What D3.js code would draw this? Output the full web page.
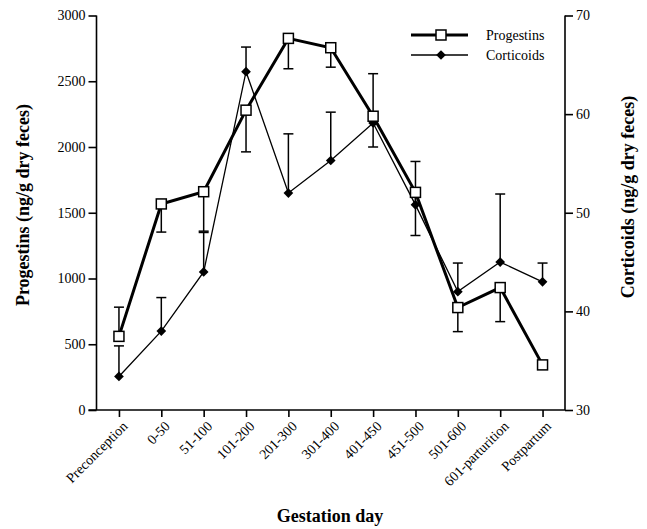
<!DOCTYPE html>
<html>
<head>
<meta charset="utf-8">
<script src="https://cdn.jsdelivr.net/npm/d3@7"></script>
<style>
  body { margin: 0; background: #fff; }
  svg text { font-family: "Liberation Serif", "Times New Roman", serif; fill: #000; }
</style>
</head>
<body>
<svg id="chart" width="647" height="529"></svg>
<script>
// data
const categories = ["Preconception", "0-50", "51-100", "101-200", "201-300", "301-400",
  "401-450", "451-500", "501-600", "601-parturition", "Postpartum"];
const progestins = [560, 1567, 1660, 2280, 2826, 2755, 2234, 1655, 779, 931, 343];
const progestinsErr = [782, 1353, 1360, 1963, 2595, 2607, 2000, 1327, 596, 672, null]; // cap end
const corticoids = [33.4, 38.0, 44.0, 64.3, 52.0, 55.3, 59.1, 50.8, 42.0, 45.0, 43.0];
const corticoidsErr = [36.5, 41.4, 48.0, 66.8, 58.0, 60.2, 64.1, 55.2, 44.9, 51.9, 44.9];
const leftTicks = [0, 500, 1000, 1500, 2000, 2500, 3000];
const rightTicks = [30, 40, 50, 60, 70];

const svg = d3.select("#chart");
const x0 = 96.5, x1 = 565, yBottom = 410, yTop = 15.5;
const serif = "Liberation Serif";

const x = d3.scalePoint().domain(categories).range([x0, x1]).padding(0.53);
const yL = d3.scaleLinear().domain([0, 3000]).range([yBottom, yTop]);
const yR = d3.scaleLinear().domain([30, 70]).range([yBottom, yTop]);

// axes
const gL = svg.append("g").attr("transform", `translate(${x0},0)`)
  .call(d3.axisLeft(yL).tickValues(leftTicks).tickSize(8).tickPadding(3).tickFormat(d3.format("d")));
const gR = svg.append("g").attr("transform", `translate(${x1},0)`)
  .call(d3.axisRight(yR).tickValues(rightTicks).tickSize(8).tickPadding(3));
const gX = svg.append("g").attr("transform", `translate(0,${yBottom})`)
  .call(d3.axisBottom(x).tickSize(7).tickSizeOuter(0));

[gL, gR, gX].forEach(g => {
  g.attr("font-family", serif);
  g.select(".domain").attr("stroke", "#000").attr("stroke-width", 1.6);
  g.selectAll(".tick line").attr("stroke", "#000").attr("stroke-width", 1.6);
  g.selectAll("text").attr("font-size", 14);
});
gL.select(".domain").attr("d", `M0,${yTop}V${yBottom}`);
gR.select(".domain").attr("d", `M0,${yTop}V${yBottom}`);
gX.select(".domain").attr("d", `M${x0 - 8},0H${x1}`);

gX.selectAll(".tick text")
  .attr("text-anchor", "end")
  .attr("x", 0).attr("y", 0).attr("dy", 0)
  .attr("transform", "translate(9,17) rotate(-45)");

// axis titles
svg.append("text").attr("x", 330).attr("y", 522).attr("text-anchor", "middle")
  .attr("font-family", serif).attr("font-size", 18).attr("font-weight", "bold").text("Gestation day");
svg.append("text").attr("transform", "translate(29,205) rotate(-90)").attr("text-anchor", "middle")
  .attr("font-family", serif).attr("font-size", 18).attr("font-weight", "bold").text("Progestins (ng/g dry feces)");
svg.append("text").attr("transform", "translate(634,197) rotate(-90)").attr("text-anchor", "middle")
  .attr("font-family", serif).attr("font-size", 18).attr("font-weight", "bold").text("Corticoids (ng/g dry feces)");

// error bars
function errorBars(vals, errs, y) {
  const g = svg.append("g").attr("stroke", "#000").attr("stroke-width", 1.5);
  categories.forEach((c, i) => {
    if (errs[i] == null) return;
    const cx = x(c);
    g.append("line").attr("x1", cx).attr("x2", cx).attr("y1", y(vals[i])).attr("y2", y(errs[i]));
    g.append("line").attr("x1", cx - 5).attr("x2", cx + 5).attr("y1", y(errs[i])).attr("y2", y(errs[i]));
  });
}
errorBars(progestins, progestinsErr, yL);
errorBars(corticoids, corticoidsErr, yR);

// corticoids line + diamonds
const lineR = d3.line().x((d, i) => x(categories[i])).y(d => yR(d));
svg.append("path").datum(corticoids).attr("d", lineR)
  .attr("fill", "none").attr("stroke", "#000").attr("stroke-width", 1.3);
const diamond = d3.symbol().type(d3.symbolDiamond2).size(60);
svg.append("g").selectAll("path").data(corticoids).join("path")
  .attr("d", diamond)
  .attr("transform", (d, i) => `translate(${x(categories[i])},${yR(d)})`)
  .attr("fill", "#000");

// progestins line + squares
const lineL = d3.line().x((d, i) => x(categories[i])).y(d => yL(d));
svg.append("path").datum(progestins).attr("d", lineL)
  .attr("fill", "none").attr("stroke", "#000").attr("stroke-width", 3);
svg.append("g").selectAll("rect").data(progestins).join("rect")
  .attr("x", (d, i) => x(categories[i]) - 5).attr("y", d => yL(d) - 5)
  .attr("width", 10).attr("height", 10)
  .attr("fill", "#fff").attr("stroke", "#000").attr("stroke-width", 1.5);

// legend
const leg = svg.append("g").attr("font-family", serif);
leg.append("line").attr("x1", 411).attr("x2", 468).attr("y1", 35).attr("y2", 35)
  .attr("stroke", "#000").attr("stroke-width", 3);
leg.append("rect").attr("x", 436).attr("y", 30).attr("width", 10).attr("height", 10)
  .attr("fill", "#fff").attr("stroke", "#000").attr("stroke-width", 1.5);
leg.append("text").attr("x", 486).attr("y", 40).attr("font-size", 14).text("Progestins");
leg.append("line").attr("x1", 411).attr("x2", 468).attr("y1", 55).attr("y2", 55)
  .attr("stroke", "#000").attr("stroke-width", 1.3);
leg.append("path").attr("d", diamond).attr("transform", "translate(441,55)").attr("fill", "#000");
leg.append("text").attr("x", 486).attr("y", 60).attr("font-size", 14).text("Corticoids");
</script>
</body>
</html>
